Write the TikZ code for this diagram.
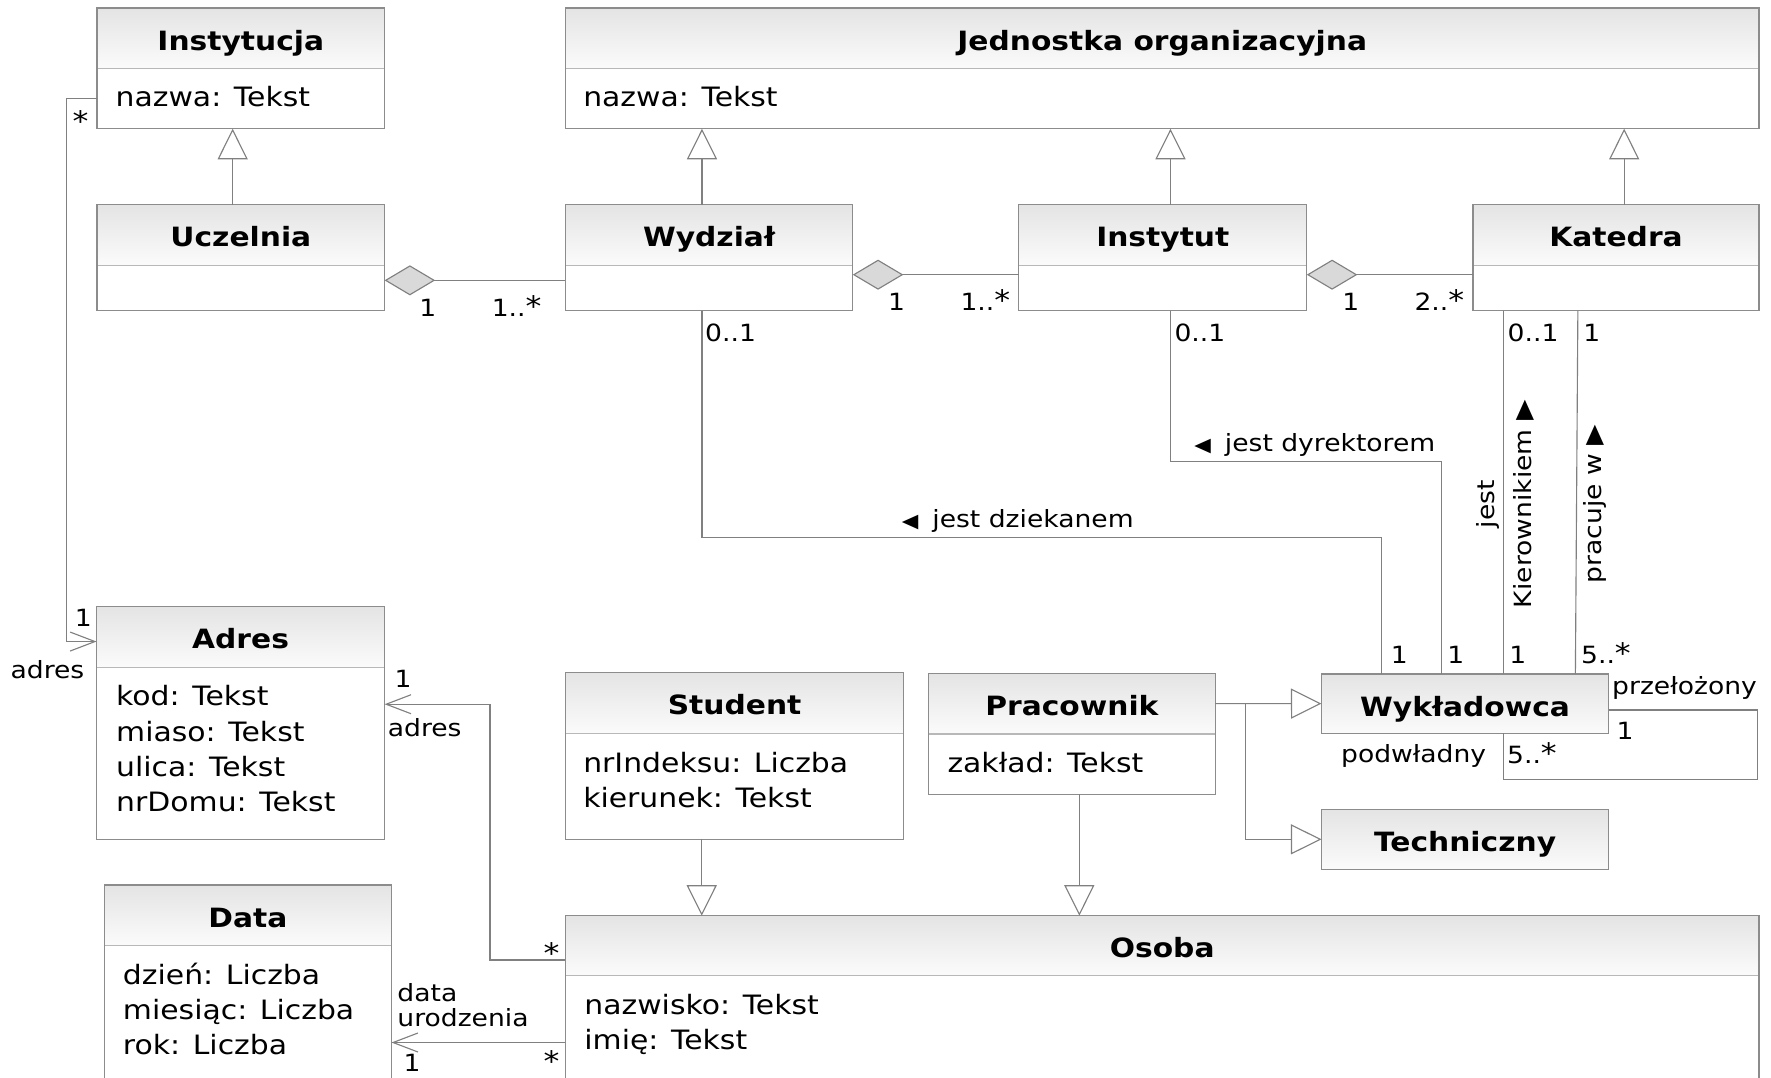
\documentclass[tikz,border=0pt]{standalone}
\usepackage{fontspec}
\setmainfont[FakeStretch=1.12]{DejaVu Sans}
\usetikzlibrary{arrows.meta,calc}

\definecolor{edgegray}{HTML}{8C8C8C}
\definecolor{linkgray}{HTML}{808080}
\definecolor{sepgray}{HTML}{B8B8B8}
\definecolor{headtop}{HTML}{E4E4E4}
\definecolor{headbot}{HTML}{FBFBFB}
\definecolor{diamondgray}{HTML}{D9D9D9}

\newcommand\titlefont{\fontsize{11.75pt}{15.65pt}\selectfont\bfseries}
\newcommand\attrfont{\fontsize{11.8pt}{15.65pt}\selectfont}
\newcommand\lblfont{\fontsize{10.5pt}{11pt}\selectfont}
\newcommand\dirL{{\fontsize{8.5pt}{8.5pt}\selectfont ◀}\hspace{2.5pt}}
\newcommand\dirR{{\fontsize{10.5pt}{10.5pt}\selectfont ▶}}
\newcommand\mstar{{\fontsize{12.5pt}{11pt}\selectfont *}}

\tikzset{
  clshead/.style={rectangle, inner sep=0pt, outer sep=0pt, top color=headtop, bottom color=headbot, draw=none},
  clsbody/.style={rectangle, inner sep=0pt, outer sep=0pt, draw=edgegray, line width=0.6pt},
  sepline/.style={draw=sepgray, line width=0.6pt},
  clstitle/.style={anchor=base, inner sep=0pt, font=\titlefont},
  attr/.style={anchor=base west, inner sep=0pt, font=\attrfont},
  lbl/.style={anchor=base west, inner sep=0pt, font=\lblfont},
  vlbl/.style={anchor=base, inner sep=0pt, font=\lblfont, rotate=90},
  link/.style={draw=linkgray, line width=0.5pt},
  gen/.style={link, -{Triangle[length=13.5pt, width=13.3pt, fill=white]}},
  agg/.style={link, {Diamond[length=22.4pt, width=13.3pt, fill=diamondgray]}-},
  nav/.style={link, -{Straight Barb[length=11pt, width=8.4pt]}},
}

% class box: name, left, top, right, header bottom, bottom, title
\newcommand\umlclass[7]{%
  \node[clshead, minimum width={(#4-(#2))*0.5pt}, minimum height={(#5-(#3))*0.5pt}]
    (#1-h) at ({(#2+#4)/2},{(#3+#5)/2}) {};
  \node[clstitle] (#1-t) at ({(#2+#4)/2},{#3+37.3}) {#7};
  \draw[sepline] (#1-h.south west) -- (#1-h.south east);
  \node[clsbody, minimum width={(#4-(#2))*0.5pt}, minimum height={(#6-(#3))*0.5pt}]
    (#1) at ({(#2+#4)/2},{(#3+#6)/2}) {};
}

\begin{document}
\begin{tikzpicture}[x=0.5pt, y=-0.5pt]
\useasboundingbox (0,0) rectangle (1568,954);
\clip (0,0) rectangle (1568,954);

% ---------- classes ----------
\umlclass{inst}{86}{7}{340.5}{60.5}{114}{Instytucja}
\umlclass{jedn}{500.5}{7}{1557.5}{60.5}{114}{Jednostka organizacyjna}
\umlclass{ucz}{86}{181.2}{340.5}{235}{275}{Uczelnia}
\umlclass{wydz}{500.5}{181.2}{755}{235}{275}{Wydział}
\umlclass{instyt}{902}{181.2}{1157}{235}{275}{Instytut}
\umlclass{kat}{1304}{181.2}{1557.5}{235}{275}{Katedra}
\umlclass{adres}{85.5}{537.1}{340.5}{590.8}{743}{Adres}
\umlclass{data}{92.5}{783.5}{346.6}{837.3}{1010}{Data}
\umlclass{stud}{500.6}{595.5}{800.2}{649.2}{743.1}{Student}
\umlclass{prac}{822}{596.1}{1076}{649.9}{703.3}{Pracownik}
\umlclass{wykl}{1170}{596.7}{1424.2}{649.2}{649.2}{Wykładowca}
\umlclass{tech}{1170}{716.5}{1424.2}{769.7}{769.7}{Techniczny}
\umlclass{osoba}{500.6}{810.7}{1557.4}{863.8}{1010}{Osoba}

% ---------- attributes ----------
\node[attr] (inst-a1) at (102,94.4) {nazwa: Tekst};
\node[attr] (jedn-a1) at (516,94.5) {nazwa: Tekst};
\node[attr] (adres-a1) at (102.5,624.8) {kod: Tekst};
\node[attr] (adres-a2) at (102.5,656.1) {miaso: Tekst};
\node[attr] (adres-a3) at (102.5,687.4) {ulica: Tekst};
\node[attr] (adres-a4) at (102.5,718.7) {nrDomu: Tekst};
\node[attr] (data-a1) at (108.5,871.5) {dzień: Liczba};
\node[attr] (data-a2) at (108.5,902.5) {miesiąc: Liczba};
\node[attr] (data-a3) at (108.5,933.5) {rok: Liczba};
\node[attr] (stud-a1) at (516,684) {nrIndeksu: Liczba};
\node[attr] (stud-a2) at (516,715) {kierunek: Tekst};
\node[attr] (prac-a1) at (838.5,684) {zakład: Tekst};
\node[attr] (osoba-a1) at (517,898) {nazwisko: Tekst};
\node[attr] (osoba-a2) at (517,929) {imię: Tekst};

% ---------- routing coordinates ----------
\coordinate (xUcz) at (206,0);
\coordinate (xWyd) at (621.5,0);
\coordinate (xIns) at (1036.3,0);
\coordinate (xKat) at (1438,0);
\coordinate (xStu) at (621.3,0);
\coordinate (xPra) at (955.6,0);
\coordinate (xDzi) at (1223.5,0);
\coordinate (xDyr) at (1276.6,0);
\coordinate (xKie) at (1331.2,0);
\coordinate (xPrTop) at (1397,0);
\coordinate (xPrBot) at (1394.8,0);
\coordinate (xAdrL) at (59.2,0);
\coordinate (xAdrR) at (433.8,0);
\coordinate (xJct) at (1103,0);
\coordinate (xSelf) at (1556,0);
\coordinate (yAgg1) at (0,248.2);
\coordinate (yAgg2) at (0,243.2);
\coordinate (yInst) at (0,87.4);
\coordinate (yAdrL) at (0,568);
\coordinate (yAdrR) at (0,623.5);
\coordinate (yOsA) at (0,850);
\coordinate (yOsD) at (0,923);
\coordinate (yDzi) at (0,475.8);
\coordinate (yDyr) at (0,408.6);
\coordinate (ySelfTop) at (0,628.6);
\coordinate (ySelfBot) at (0,689.8);

% ---------- generalizations ----------
\draw[gen] (ucz.north -| xUcz) -- (inst.south -| xUcz);
\draw[gen] (wydz.north -| xWyd) -- (jedn.south -| xWyd);
\draw[gen] (instyt.north -| xIns) -- (jedn.south -| xIns);
\draw[gen] (kat.north -| xKat) -- (jedn.south -| xKat);
\draw[gen] (stud.south -| xStu) -- (osoba.north -| xStu);
\draw[gen] (prac.south -| xPra) -- (osoba.north -| xPra);
\draw[gen] (prac-h.east) -- (wykl.west);
\draw[gen] (prac-h.east -| xJct) |- (tech.west);

% ---------- compositions ----------
\draw[agg] (ucz.east |- yAgg1) -- (wydz.west |- yAgg1);
\draw[agg] (wydz.east |- yAgg2) -- (instyt.west |- yAgg2);
\draw[agg] (instyt.east |- yAgg2) -- (kat.west |- yAgg2);

% ---------- directed associations ----------
\draw[nav] (inst.west |- yInst) -| (xAdrL |- yAdrL) -- (adres.west |- yAdrL);
\draw[nav] (osoba.west |- yOsA) -| (xAdrR |- yAdrR) -- (adres.east |- yAdrR);
\draw[nav] (osoba.west |- yOsD) -- (data.east |- yOsD);

% ---------- associations ----------
\draw[link] (wydz.south -| xWyd) |- (xDzi |- yDzi) -- (wykl.north -| xDzi);
\draw[link] (instyt.south -| xIns) |- (xDyr |- yDyr) -- (wykl.north -| xDyr);
\draw[link] (kat.south -| xKie) -- (wykl.north -| xKie);
\draw[link] (kat.south -| xPrTop) -- (wykl.north -| xPrBot);
\draw[link] (wykl.east |- ySelfTop) -| (xSelf |- ySelfBot) -| (wykl.south -| xKie);

% ---------- multiplicities and role names ----------
\node[lbl] (m-inst) at (64,116.5) {\mstar};
\node[lbl] (m-adres1) at (66,555) {1};
\node[lbl] (r-adres1) at (9,600.5) {adres};
\node[lbl] (m-adres2) at (349,609) {1};
\node[lbl] (r-adres2) at (343,652) {adres};
\node[lbl] (m-osA) at (481,853) {\mstar};
\node[lbl] (m-osD) at (481,949) {\mstar};
\node[lbl] (r-data1) at (351.5,887) {data};
\node[lbl] (r-data2) at (351.5,909) {urodzenia};
\node[lbl] (m-data) at (357,949) {1};

\node[lbl] (m-ucz) at (371,280.5) {1};
\node[lbl] (m-wydz1) at (435,280.5) {1..\mstar};
\node[lbl] (m-wydz2) at (786,275) {1};
\node[lbl] (m-ins1) at (850,275) {1..\mstar};
\node[lbl] (m-ins2) at (1188,275) {1};
\node[lbl] (m-kat1) at (1252,275) {2..\mstar};

\node[lbl] (m-wydz3) at (624,302) {0..1};
\node[lbl] (m-ins3) at (1039.5,302) {0..1};
\node[lbl] (m-kat2) at (1334.5,302) {0..1};
\node[lbl] (m-kat3) at (1401.5,302) {1};

\node[lbl] (m-w1) at (1231,587) {1};
\node[lbl] (m-w2) at (1281,587) {1};
\node[lbl] (m-w3) at (1336,587) {1};
\node[lbl] (m-w4) at (1399.5,587) {5..\mstar};

\node[lbl] (r-sup) at (1427,615) {przełożony};
\node[lbl] (m-sup) at (1431,655) {1};
\node[lbl] (r-sub) at (1187,675) {podwładny};
\node[lbl] (m-sub) at (1334,675.6) {5..\mstar};

% ---------- association names ----------
\node[lbl] (n-dziekan) at (798,467) {\dirL{} jest dziekanem};
\node[lbl] (n-dyrektor) at (1057,400) {\dirL{} jest dyrektorem};
\node[vlbl] (n-kier1) at (1323,446.5) {jest};
\node[vlbl] (n-kier2) at (1356,446.5) {Kierownikiem \dirR};
\node[vlbl] (n-prac) at (1418,446.5) {pracuje w \dirR};
\end{tikzpicture}
\end{document}
